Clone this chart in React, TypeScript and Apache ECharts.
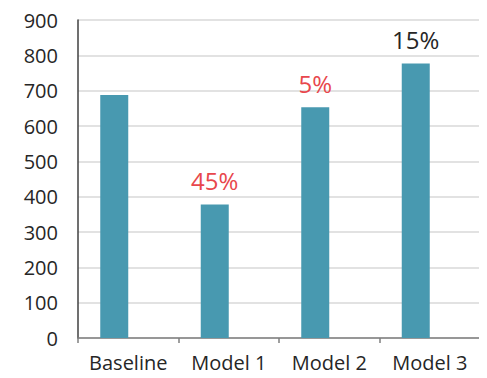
import React, { useEffect, useRef } from "react";
import * as echarts from "echarts";

const categories = ["Baseline", "Model 1", "Model 2", "Model 3"];
const values = [688, 378, 653, 777];
const changeLabels = ["", "45%", "5%", "15%"];
const labelColors = ["#262626", "#E8474C", "#E8474C", "#262626"];
const yTicks = { min: 0, max: 900, interval: 100 };

const FONT = "'Open Sans', 'DejaVu Sans', sans-serif";

export default function App() {
  const ref = useRef<HTMLDivElement>(null);

  useEffect(() => {
    if (!ref.current) return;
    const chart = echarts.init(ref.current, null, { renderer: "svg" });
    chart.setOption({
      animation: false,
      backgroundColor: "#ffffff",
      grid: { left: 78, right: 7, top: 20, bottom: 40, containLabel: false },
      xAxis: {
        type: "category",
        data: categories,
        axisLine: { show: true, lineStyle: { color: "#7f7f7f", width: 1.5 } },
        axisTick: { show: true, length: 5, interval: 0, lineStyle: { color: "#7f7f7f", width: 1.5 } },
        axisLabel: {
          interval: 0,
          hideOverlap: false,
          color: "#262626",
          fontSize: 20,
          lineHeight: 20,
          fontFamily: FONT,
          margin: 14,
        },
      },
      yAxis: {
        type: "value",
        min: yTicks.min,
        max: yTicks.max,
        interval: yTicks.interval,
        axisLine: { show: true, lineStyle: { color: "#404040", width: 1.5 } },
        axisTick: { show: false },
        axisLabel: { color: "#262626", fontSize: 20, fontFamily: FONT, margin: 20 },
        splitLine: { show: true, lineStyle: { color: "#d9d9d9", width: 1.5 } },
      },
      series: [
        {
          type: "bar",
          barWidth: 28,
          barGap: 0,
          itemStyle: { color: "#4899B0" },
          data: values.map((v, i) => ({
            value: v,
            label: {
              show: changeLabels[i] !== "",
              position: "top",
              distance: 12,
              formatter: changeLabels[i],
              color: labelColors[i],
              fontSize: 24,
              fontFamily: FONT,
            },
          })),
        },
        {
          // empty companion series of the clustered layout
          type: "bar",
          barWidth: 28,
          barGap: 0,
          data: categories.map(() => null),
        },
      ],
    });
    return () => chart.dispose();
  }, []);

  return <div ref={ref} style={{ width: 487, height: 378, margin: -8 }} />;
}
